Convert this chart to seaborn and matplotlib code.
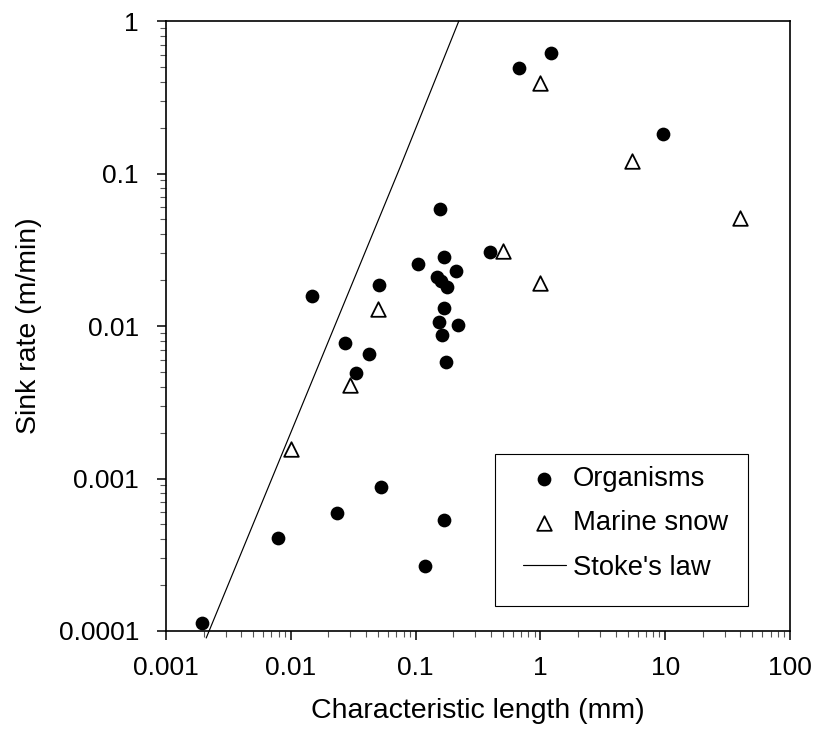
import matplotlib
matplotlib.use("Agg")
import matplotlib.pyplot as plt
import seaborn as sns
from matplotlib.ticker import LogLocator, NullFormatter
from matplotlib.patches import Rectangle

# ---- data ----
org_len = [0.0149, 0.0509, 0.104, 0.157, 0.169, 0.211, 0.149, 0.161, 0.179,
           0.169, 0.153, 0.218, 0.163, 0.391, 0.68, 1.22, 9.69, 0.0274,
           0.042, 0.0333, 0.176, 0.0525, 0.0233, 0.00787, 0.169, 0.118, 0.00193]
org_rate = [0.0158, 0.0186, 0.0255, 0.0582, 0.0283, 0.0229, 0.0209, 0.0197, 0.0181,
            0.0132, 0.0106, 0.0102, 0.00873, 0.0307, 0.494, 0.614, 0.181, 0.00774,
            0.00658, 0.00494, 0.0058, 0.000883, 0.000597, 0.000409, 0.000534, 0.000268, 0.000113]

snow_len = [1.0, 5.46, 39.5, 0.5, 1.0, 0.05, 0.030, 0.01]
snow_rate = [0.394, 0.121, 0.0508, 0.031, 0.0192, 0.0129, 0.0041, 0.00155]

stokes_len = [0.0021, 0.01, 0.0755, 0.222]
stokes_rate = [0.00009, 0.002, 0.111, 1.0]

x_ticks = [0.001, 0.01, 0.1, 1, 10, 100]
x_tick_labels = ["0.001", "0.01", "0.1", "1", "10", "100"]
y_ticks = [0.0001, 0.001, 0.01, 0.1, 1]
y_tick_labels = ["0.0001", "0.001", "0.01", "0.1", "1"]

# ---- style ----
sns.set_style("ticks")
plt.rcParams["font.family"] = ["Liberation Sans", "DejaVu Sans"]
plt.rcParams["text.color"] = "black"
plt.rcParams["axes.labelcolor"] = "black"
plt.rcParams["xtick.color"] = "black"
plt.rcParams["ytick.color"] = "black"
plt.rcParams["axes.edgecolor"] = "black"

fig = plt.figure(figsize=(8.16, 7.38), dpi=100)
fig.patch.set_facecolor("white")
ax = fig.add_axes([166 / 816, 1 - 631 / 738, 624 / 816, 610 / 738])
ax.set_xscale("log")
ax.set_yscale("log")

sns.lineplot(x=stokes_len, y=stokes_rate, ax=ax, color="black", lw=0.85,
             sort=False, estimator=None, label="Stoke's law", clip_on=False, zorder=2)
sns.scatterplot(x=org_len, y=org_rate, ax=ax, color="black", s=98, marker="o",
                edgecolor="black", linewidth=0, label="Organisms", zorder=3)
sns.scatterplot(x=snow_len, y=snow_rate, ax=ax, color="white", s=110, marker="^",
                edgecolor="black", linewidth=1.3, label="Marine snow", zorder=3)

ax.set_xlim(0.001, 100)
ax.set_ylim(0.0001, 1)
ax.set_xticks(x_ticks)
ax.set_xticklabels(x_tick_labels)
ax.set_yticks(y_ticks)
ax.set_yticklabels(y_tick_labels)
for axis in (ax.xaxis, ax.yaxis):
    axis.set_minor_locator(LogLocator(base=10, subs=range(2, 10), numticks=100))
    axis.set_minor_formatter(NullFormatter())

ax.tick_params(axis="both", which="major", direction="out", length=6.5, width=1.1,
               color="black", labelsize=19, labelcolor="black")
ax.tick_params(axis="both", which="minor", direction="out", length=4.5, width=0.8,
               color="#555555")
ax.tick_params(axis="y", which="major", pad=13)
ax.tick_params(axis="x", which="major", pad=11.5)

for sp in ax.spines.values():
    sp.set_visible(True)
    sp.set_color("black")
    sp.set_linewidth(1.2)

ax.set_xlabel("Characteristic length (mm)", fontsize=20.5, labelpad=13, color="black")
ax.set_ylabel("Sink rate (m/min)", fontsize=20.5, labelpad=12, color="black")

handles, labels = ax.get_legend_handles_labels()
order = [labels.index("Organisms"), labels.index("Marine snow"), labels.index("Stoke's law")]
leg = ax.legend([handles[i] for i in order], [labels[i] for i in order],
                loc="upper left", bbox_to_anchor=(0.572, 0.2705), borderaxespad=0,
                borderpad=0, frameon=False, fontsize=19.7, handlelength=1.57,
                handletextpad=0.25, labelspacing=0.67, scatterpoints=1)
for t in leg.get_texts():
    t.set_color("black")
ax.add_patch(Rectangle((0.527, 0.041), 0.406, 0.249, transform=ax.transAxes,
                       fill=False, edgecolor="black", lw=0.8, zorder=5))

fig.savefig("out.png", dpi=100, facecolor="white")
